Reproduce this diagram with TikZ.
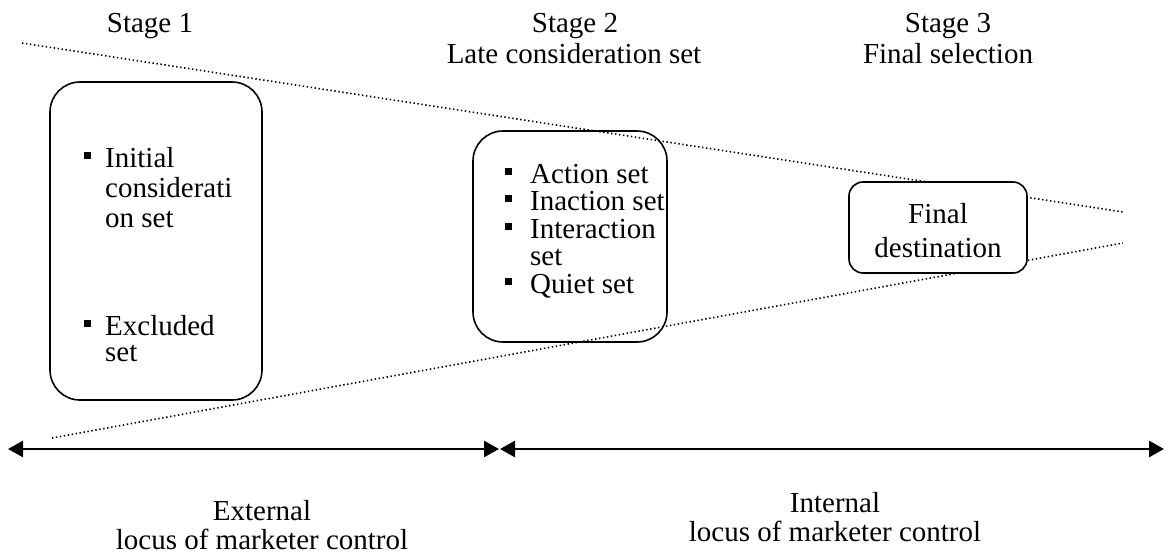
\documentclass[tikz,border=0pt]{standalone}
\usepackage{fontspec}
\setmainfont{Liberation Serif}
\usetikzlibrary{arrows.meta}
\begin{document}
\begin{tikzpicture}[x=1pt,y=-1pt,
  lbl/.style={anchor=base, inner sep=0pt, font=\fontsize{29}{32}\selectfont},
  item/.style={anchor=base west, inner sep=0pt, font=\fontsize{29}{32}\selectfont},
  roundbox/.style={draw, line width=1.6pt, inner sep=0pt},
  bulletmark/.style={fill=black, inner sep=0pt, minimum size=7pt},
  guide/.style={line width=1.6pt, dash pattern=on 1.4pt off 2.6pt},
  span/.style={line width=2.7pt, {Triangle[length=15pt,width=16pt]}-{Triangle[length=15pt,width=16pt]}},
]
\useasboundingbox (0,0) rectangle (1165,557);

% stage titles
\node[lbl] (s1) at (150,32) {Stage 1};
\node[lbl] (s2) at (575,32) {Stage 2};
\node[lbl] (s2b) at (574,63) {Late consideration set};
\node[lbl] (s3) at (948,32) {Stage 3};
\node[lbl] (s3b) at (948,63) {Final selection};

% funnel guide lines
\coordinate (gt1) at (22,43);
\coordinate (gt2) at (1123,212);
\coordinate (gb1) at (52,438);
\coordinate (gb2) at (1123,243);
\draw[guide] (gt1) -- (gt2);
\draw[guide] (gb1) -- (gb2);

% box 1
\node[roundbox, fill=white, rounded corners=30pt, minimum width=212pt, minimum height=318pt] (box1) at (156,241) {};
\node[bulletmark] (b11) at (87,155) {};
\node[item] (t11) at (105,167) {Initial};
\node[item] (t12) at (105,197) {considerati};
\node[item] (t13) at (105,227) {on set};
\node[bulletmark] (b12) at (87,323) {};
\node[item] (t14) at (105,335) {Excluded};
\node[item] (t15) at (105,361) {set};

% box 2
\node[roundbox, rounded corners=30pt, minimum width=194pt, minimum height=211pt] (box2) at (570,236.5) {};
\node[bulletmark] (b21) at (508,171) {};
\node[item] (t21) at (530,183) {Action set};
\node[bulletmark] (b22) at (508,198.5) {};
\node[item] (t22) at (530,210.5) {Inaction set};
\node[bulletmark] (b23) at (508,226) {};
\node[item] (t23) at (530,238) {Interaction};
\node[item] (t24) at (530,265.5) {set};
\node[bulletmark] (b24) at (508,281) {};
\node[item] (t25) at (530,293) {Quiet set};

% box 3
\node[roundbox, fill=white, rounded corners=14pt, minimum width=178pt, minimum height=91pt] (box3) at (938,227.5) {};
\node[lbl] (t31) at (938,223) {Final};
\node[lbl] (t32) at (938,257) {destination};

% locus arrows
\coordinate (a0) at (8,449);
\coordinate (a1) at (499,449);
\coordinate (a2) at (500,449);
\coordinate (a3) at (1164,449);
\draw[span] (a0) -- (a1);
\draw[span] (a2) -- (a3);

\node[lbl] (e1) at (262,520) {External};
\node[lbl] (e2) at (262,549) {locus of marketer control};
\node[lbl] (i1) at (835,512) {Internal};
\node[lbl] (i2) at (835,541) {locus of marketer control};
\end{tikzpicture}
\end{document}
